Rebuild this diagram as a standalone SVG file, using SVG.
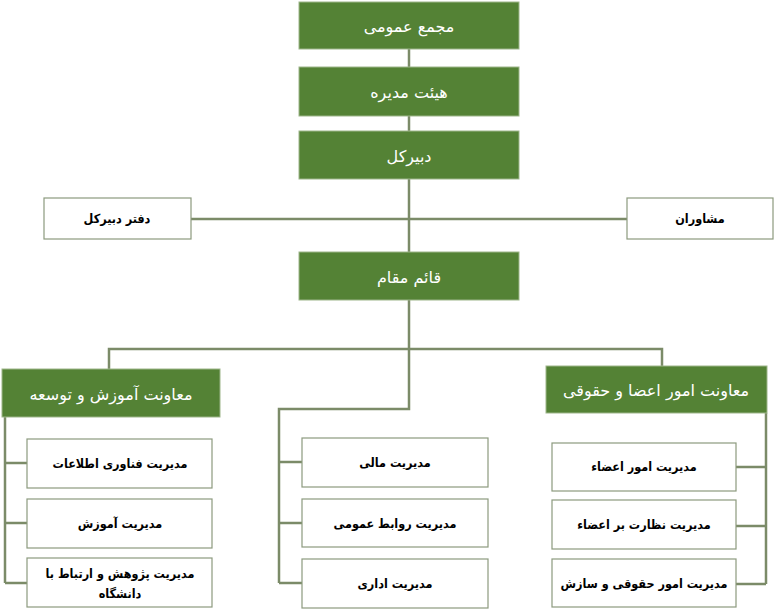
<svg xmlns="http://www.w3.org/2000/svg" width="775" height="614" viewBox="0 0 775 614">
<style>
.g{fill:#548235;stroke:#9db58a;stroke-width:1}
.w{fill:#ffffff;stroke:#8c9a7e;stroke-width:1.2}
.gt{fill:#ffffff;font-family:"DejaVu Sans",sans-serif;font-size:16px;text-anchor:middle;direction:rtl}
.wt{fill:#000000;font-family:"DejaVu Sans Condensed","DejaVu Sans",sans-serif;font-size:12.5px;font-weight:bold;text-anchor:middle;direction:rtl}
.c{fill:none;stroke:#7b8b68;stroke-width:2.5}
</style>
<rect width="775" height="614" fill="#ffffff"/>
<g id="connectors">
<path class="c" d="M409,49 V252"/>
<path class="c" d="M191,219 H627"/>
<path class="c" d="M409,300 V409 H279 V583"/>
<path class="c" d="M109,369 V349 H662 V366"/>
<path class="c" d="M279,462 H302 M279,523 H302 M279,583 H302"/>
<path class="c" d="M5,417 V583 M5,463 H27 M5,523 H27 M5,583 H27"/>
<path class="c" d="M766,413 V584 M766,467 H736 M766,526 H736 M766,584 H736"/>
</g>
<g id="n1"><rect class="g" x="299" y="2" width="220" height="47"/><text class="gt" x="409" y="32">مجمع عمومی</text></g>
<g id="n2"><rect class="g" x="299" y="67" width="220" height="49"/><text class="gt" x="409" y="98">هیئت مدیره</text></g>
<g id="n3"><rect class="g" x="299" y="131" width="220" height="48"/><text class="gt" x="409" y="162">دبیرکل</text></g>
<g id="n4"><rect class="g" x="299" y="252" width="220" height="48"/><text class="gt" x="409" y="283">قائم مقام</text></g>
<g id="n5"><rect class="w" x="44" y="198" width="147" height="41"/><text class="wt" x="117" y="223">دفتر دبیرکل</text></g>
<g id="n6"><rect class="w" x="627" y="198" width="146" height="41"/><text class="wt" x="700" y="223">مشاوران</text></g>
<g id="n7"><rect class="g" x="2" y="369" width="218" height="48"/><text class="gt" x="111" y="400">معاونت آموزش و توسعه</text></g>
<g id="n8"><rect class="g" x="546" y="366" width="221" height="47"/><text class="gt" x="656" y="396">معاونت امور اعضا و حقوقی</text></g>
<g id="n9"><rect class="w" x="27" y="439" width="185" height="49"/><text class="wt" x="120" y="468">مدیریت فناوری اطلاعات</text></g>
<g id="n10"><rect class="w" x="27" y="499" width="185" height="49"/><text class="wt" x="120" y="528">مدیریت آموزش</text></g>
<g id="n11"><rect class="w" x="27" y="558" width="185" height="49"/><text class="wt" x="120" y="578">مدیریت پژوهش و ارتباط با</text><text class="wt" x="120" y="598">دانشگاه</text></g>
<g id="n12"><rect class="w" x="302" y="438" width="186" height="49"/><text class="wt" x="395" y="467">مدیریت مالی</text></g>
<g id="n13"><rect class="w" x="302" y="499" width="186" height="48"/><text class="wt" x="395" y="528">مدیریت روابط عمومی</text></g>
<g id="n14"><rect class="w" x="302" y="559" width="186" height="49"/><text class="wt" x="395" y="588">مدیریت اداری</text></g>
<g id="n15"><rect class="w" x="552" y="443" width="184" height="48"/><text class="wt" x="644" y="471">مدیریت امور اعضاء</text></g>
<g id="n16"><rect class="w" x="552" y="500" width="184" height="49"/><text class="wt" x="644" y="529">مدیریت نظارت بر اعضاء</text></g>
<g id="n17"><rect class="w" x="552" y="559" width="184" height="48"/><text class="wt" x="644" y="588">مدیریت امور حقوقی و سازش</text></g>
</svg>
